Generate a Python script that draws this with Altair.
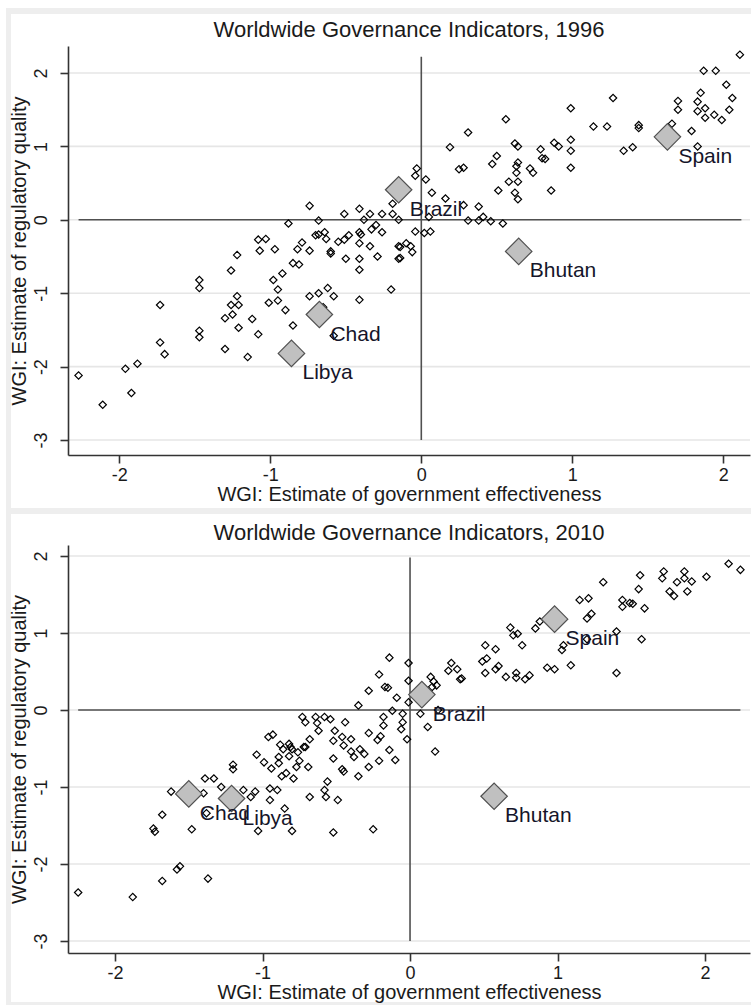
import altair as alt
import pandas as pd

# ---------------- data ----------------
ge_1996 = [-0.74, -0.88, -0.68, -0.51, -0.41, -0.34, -0.26, -0.19, -0.19, -0.15,
           -0.38, -0.30, -0.33, -0.26, -0.41, -0.40, -0.48, -0.51, -0.55, -0.64,
           -0.63, -0.70, -0.68, -0.79, -0.82, -0.74, -0.60, -0.60, -0.97, -1.07,
           -1.08, -1.03, -1.22, -0.41, -0.34, -0.15, -0.10, -0.14, -0.50, -0.41,
           -0.29, -0.15, -0.41, -1.26, -0.85, -0.81, -0.92, -0.98, -0.95, -1.47,
           -1.47, -1.22, -1.26, -1.21, -1.01, -0.95, -0.90, -0.74, -0.68, -0.62,
           -0.58, -0.41, -0.20, -1.25, -1.30, -1.12, -1.21, -1.08, -0.85, -1.73,
           -1.47, -1.47, -1.73, -1.70, -1.30, -1.15, -1.96, -1.88, -2.27, -1.92,
           -2.11, -0.58, -0.65, 2.11, 1.87, 1.95, 2.02, 1.85, 2.06, 1.70,
           1.70, 1.83, 1.88, 1.83, 1.88, 1.94, 1.99, 2.04, 1.66, 1.79,
           1.83, 1.27, 0.99, 1.14, 1.23, 1.44, 1.44, 1.34, 1.40, 0.56,
           0.31, 0.19, 0.62, 0.64, 0.50, 0.47, 0.88, 0.91, 0.99, 0.99,
           0.79, 0.80, 0.82, 0.64, 0.63, 0.99, 0.72, 0.74, 0.63, 0.25,
           0.28, 0.58, 0.64, 0.51, 0.62, 0.64, 0.86, -0.03, -0.04, 0.03,
           0.07, 0.16, 0.28, 0.38, 0.05, 0.31, 0.38, 0.41, 0.46, 0.54,
           -0.04, 0.02, 0.06, -0.07, -0.06, -0.14]
rq_1996 = [0.19, -0.05, -0.01, 0.08, 0.15, 0.08, 0.08, 0.22, 0.08, 0.00,
           0.00, -0.07, -0.13, -0.17, -0.17, -0.20, -0.21, -0.27, -0.30, -0.17,
           -0.26, -0.21, -0.20, -0.31, -0.40, -0.42, -0.43, -0.46, -0.40, -0.42,
           -0.27, -0.26, -0.48, -0.32, -0.36, -0.36, -0.32, -0.37, -0.53, -0.53,
           -0.50, -0.53, -0.68, -0.69, -0.59, -0.61, -0.73, -0.82, -0.95, -0.82,
           -0.93, -1.04, -1.16, -1.16, -1.13, -1.10, -1.23, -1.04, -1.00, -0.93,
           -1.04, -1.09, -0.95, -1.29, -1.34, -1.35, -1.47, -1.56, -1.44, -1.16,
           -1.51, -1.60, -1.67, -1.83, -1.76, -1.87, -2.03, -1.96, -2.12, -2.36,
           -2.52, -1.58, -1.19, 2.25, 2.03, 2.03, 1.84, 1.73, 1.66, 1.62,
           1.50, 1.61, 1.52, 1.48, 1.39, 1.43, 1.36, 1.50, 1.31, 1.21,
           1.00, 1.66, 1.52, 1.27, 1.27, 1.29, 1.25, 0.94, 0.99, 1.37,
           1.19, 0.99, 1.04, 1.00, 0.87, 0.76, 1.05, 1.00, 1.09, 0.94,
           0.96, 0.84, 0.83, 0.78, 0.73, 0.71, 0.70, 0.64, 0.64, 0.69,
           0.71, 0.52, 0.52, 0.40, 0.37, 0.28, 0.40, 0.70, 0.60, 0.55,
           0.37, 0.29, 0.20, 0.18, 0.04, -0.01, -0.01, 0.04, -0.02, -0.05,
           -0.16, -0.18, -0.16, -0.36, -0.44, -0.52]

ge_2010 = [-0.14, -0.01, -0.21, -0.17, -0.15, -0.28, -0.09, -0.01, -0.01, -0.35,
           -0.12, -0.05, -0.18, -0.05, -0.18, -0.06, -0.02, -0.28, -0.20, -0.22,
           -0.14, -0.10, -0.21, -0.28, -0.73, -0.71, -0.64, -0.58, -0.54, -0.63,
           -0.62, -0.44, -0.51, -0.46, -0.40, -0.52, -0.45, -0.40, -0.34, -0.31,
           -0.38, -0.52, -0.46, -0.68, -0.71, -0.76, -0.80, -0.82, -0.88, -0.86,
           -0.82, -0.89, -0.75, -0.77, -0.69, -0.94, -0.96, -0.93, -1.04, -0.99,
           -1.20, -0.81, -0.72, -0.89, -0.87, -0.84, -0.79, -1.20, -0.45, -0.35,
           -0.56, -0.58, -0.57, -0.49, -0.68, -0.90, -0.95, -0.95, -1.05, -1.08,
           -1.13, -0.85, -1.03, -0.80, -0.52, -0.25, -1.39, -1.33, -1.28, -1.40,
           -1.62, -1.38, -1.68, -1.74, -1.73, -1.48, -1.56, -1.58, -1.68, -1.37,
           -1.88, -2.25, 2.16, 2.24, 2.01, 1.86, 1.72, 1.71, 1.81, 1.86,
           1.91, 1.88, 1.76, 1.79, 1.56, 1.55, 1.31, 1.44, 1.49, 1.51,
           1.44, 1.59, 1.15, 1.21, 1.23, 1.20, 1.57, 1.40, 1.40, 0.85,
           0.88, 0.68, 0.70, 0.73, 0.76, 1.04, 1.03, 1.09, 0.93, 0.98,
           1.20, 0.51, 0.58, 0.49, 0.52, 0.51, 0.60, 0.58, 0.65, 0.72,
           0.72, 0.78, 0.81, 0.28, 0.26, 0.32, 0.34, 0.35, 0.14, 0.16,
           0.18, 0.15, 0.07, 0.12, 0.17, 0.19]
rq_2010 = [0.68, 0.61, 0.46, 0.30, 0.29, 0.25, 0.16, 0.38, 0.10, 0.06,
           -0.01, -0.05, -0.09, -0.16, -0.20, -0.25, -0.38, -0.30, -0.34, -0.39,
           -0.52, -0.65, -0.66, -0.74, -0.09, -0.16, -0.09, -0.09, -0.12, -0.17,
           -0.27, -0.16, -0.27, -0.35, -0.38, -0.40, -0.46, -0.54, -0.51, -0.57,
           -0.61, -0.63, -0.77, -0.38, -0.48, -0.55, -0.51, -0.44, -0.45, -0.51,
           -0.60, -0.61, -0.66, -0.74, -0.74, -0.76, -0.35, -0.32, -0.58, -0.68,
           -0.71, -0.48, -0.48, -0.69, -0.86, -0.82, -0.89, -0.77, -0.80, -0.86,
           -0.93, -1.04, -1.13, -1.17, -1.13, -1.04, -1.02, -1.17, -1.06, -1.13,
           -1.04, -1.28, -1.57, -1.57, -1.59, -1.55, -0.89, -0.89, -1.00, -1.08,
           -1.06, -1.34, -1.36, -1.54, -1.58, -1.55, -2.03, -2.07, -2.22, -2.19,
           -2.43, -2.37, 1.90, 1.82, 1.73, 1.80, 1.80, 1.71, 1.66, 1.71,
           1.67, 1.54, 1.54, 1.48, 1.75, 1.57, 1.66, 1.43, 1.39, 1.38,
           1.34, 1.32, 1.43, 1.45, 1.25, 1.19, 0.92, 1.02, 0.48, 1.06,
           1.15, 1.07, 0.97, 0.99, 0.84, 0.84, 0.78, 0.58, 0.55, 0.53,
           0.92, 0.84, 0.79, 0.63, 0.67, 0.48, 0.57, 0.53, 0.43, 0.48,
           0.42, 0.40, 0.45, 0.61, 0.51, 0.53, 0.40, 0.41, 0.43, 0.37,
           0.32, 0.30, -0.05, -0.22, -0.54, 0.00]

countries = ["Spain", "Brazil", "Bhutan", "Chad", "Libya"]
hl_ge_1996 = [1.63, -0.15, 0.645, -0.675, -0.86]
hl_rq_1996 = [1.13, 0.41, -0.43, -1.29, -1.82]
hl_ge_2010 = [0.98, 0.08, 0.57, -1.50, -1.21]
hl_rq_2010 = [1.18, 0.20, -1.12, -1.09, -1.15]

x_ticks = [-2, -1, 0, 1, 2]
y_ticks = [-3, -2, -1, 0, 1, 2]

# reference-line extents (data units)
hline_1996 = [-2.27, 2.12]
vline_1996 = [-3.0, 2.22]
hline_2010 = [-2.25, 2.24]
vline_2010 = [-3.0, 1.98]

FONT = "Liberation Sans"
W = 682
TXT = "#1a1a1a"


def panel(ge, rq, hge, hrq, title, xdom, ydom, hline, vline, H, top_ext, bot_ext, wtop, wbot):
    xs = alt.Scale(domain=xdom, nice=False, zero=False)
    ys = alt.Scale(domain=ydom, nice=False, zero=False)
    common = dict(grid=False, zindex=1, domainColor="#333333", domainWidth=1.6,
                  tickColor="#333333", tickWidth=1.6, tickSize=8,
                  labelFont=FONT, labelFontSize=18, labelColor=TXT,
                  labelExpr="'' + datum.value",
                  titleFont=FONT, titleFontSize=20, titleColor=TXT, titleFontWeight="normal")
    xax = alt.Axis(values=x_ticks, title="WGI: Estimate of government effectiveness",
                   labelAngle=0, labelPadding=3, titlePadding=0, **common)
    yax = alt.Axis(values=y_ticks, title="WGI: Estimate of regulatory quality",
                   labelAngle=-90, labelPadding=10, titlePadding=3, **common)

    one = pd.DataFrame({"k": [0]})
    grey = alt.Chart(one).mark_rect(color="#eeeeee").encode(
        x=alt.value(-62), x2=alt.value(W + 1), y=alt.value(top_ext), y2=alt.value(H + bot_ext))
    white = alt.Chart(one).mark_rect(color="#ffffff").encode(
        x=alt.value(-57), x2=alt.value(W + 1), y=alt.value(wtop), y2=alt.value(H + wbot))

    grid = alt.Chart(pd.DataFrame({"v": y_ticks})).mark_rule(
        color="#e6e6e6", strokeWidth=1.6).encode(
        y=alt.Y("v:Q", scale=ys, axis=yax), x=alt.value(0), x2=alt.value(W))

    hl = alt.Chart(pd.DataFrame({"x1": [hline[0]], "x2": [hline[1]], "y0": [0.0]})).mark_rule(
        color="#505050", strokeWidth=1.6).encode(
        x=alt.X("x1:Q", scale=xs, axis=xax), x2="x2:Q", y=alt.Y("y0:Q", scale=ys, axis=yax))
    vl = alt.Chart(pd.DataFrame({"x0": [0.0], "y1": [vline[0]], "y2": [vline[1]]})).mark_rule(
        color="#505050", strokeWidth=1.6).encode(
        x=alt.X("x0:Q", scale=xs, axis=xax), y=alt.Y("y1:Q", scale=ys, axis=yax), y2="y2:Q")

    pts = alt.Chart(pd.DataFrame({"ge": ge, "rq": rq})).mark_point(
        shape="diamond", size=54, filled=False, color="#000000", strokeWidth=1.2, opacity=1).encode(
        x=alt.X("ge:Q", scale=xs, axis=xax), y=alt.Y("rq:Q", scale=ys, axis=yax))

    hdf = pd.DataFrame({"ge": hge, "rq": hrq, "country": countries})
    big = alt.Chart(hdf).mark_point(
        shape="diamond", size=700, filled=True, fill="#c0c0c0", stroke="#505050",
        strokeWidth=1.2, opacity=1).encode(
        x=alt.X("ge:Q", scale=xs, axis=xax), y=alt.Y("rq:Q", scale=ys, axis=yax))
    lab = alt.Chart(hdf).mark_text(
        align="left", baseline="middle", dx=11, dy=20, fontSize=21, font=FONT,
        color="#15152a").encode(
        x=alt.X("ge:Q", scale=xs, axis=xax), y=alt.Y("rq:Q", scale=ys, axis=yax),
        text="country:N")

    return alt.layer(grey, white, grid, hl, vl, pts, big, lab).properties(
        width=W, height=H,
        title=alt.TitleParams(title, font=FONT, fontSize=22, fontWeight="normal",
                              color=TXT, offset=-34, anchor="middle", frame="group",
                              zindex=1))


p1 = panel(ge_1996, rq_1996, hl_ge_1996, hl_rq_1996,
           "Worldwide Governance Indicators, 1996",
           [-2.34, 2.177], [-3.204, 2.368], hline_1996, vline_1996,
           409, -38, 56, -32, 53)
p2 = panel(ge_2010, rq_2010, hl_ge_2010, hl_rq_2010,
           "Worldwide Governance Indicators, 2010",
           [-2.319, 2.305], [-3.156, 2.143], hline_2010, vline_2010,
           408, -34, 52, -31, 49)

chart = alt.vconcat(p1, p2, spacing=0).properties(
    padding={"left": 6, "top": 8, "right": 0, "bottom": 0}
).configure(
    background="#ffffff"
).configure_view(
    stroke=None
)

chart.save("out.html", embed_options={"renderer": "svg", "actions": False})
